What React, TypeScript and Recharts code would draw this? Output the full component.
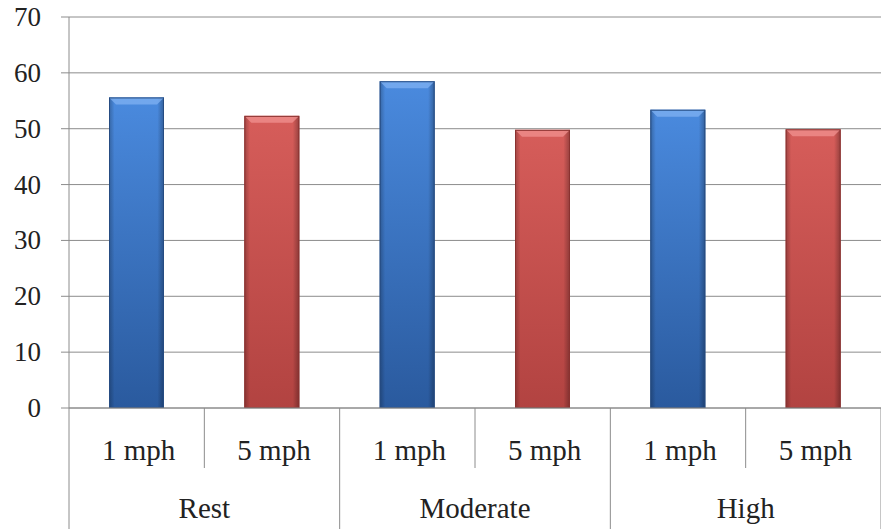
import React from 'react';
import { BarChart, Bar, XAxis, YAxis, CartesianGrid } from 'recharts';

const groups = ['Rest', 'Moderate', 'High'];
const speeds = ['1 mph', '5 mph'];
const oneMph = [55.6, 58.5, 53.4];
const fiveMph = [52.3, 49.8, 49.9];
const yTicks = [0, 10, 20, 30, 40, 50, 60, 70];

const data = groups.flatMap((g, i) => [
  { key: `${g}-1`, group: g, speed: speeds[0], value: oneMph[i], series: 'blue' },
  { key: `${g}-5`, group: g, speed: speeds[1], value: fiveMph[i], series: 'red' },
]);

const W = 881;
const H = 529;
const LEFT = 69;
const AXIS = '#8c8c8c';
const FONT = "'Liberation Serif', 'DejaVu Serif', serif";
const band = (W - LEFT) / data.length;
const yStyle = { fontFamily: FONT, fontSize: 27 };
const xStyle = { fontFamily: FONT, fontSize: 29 };

const palette: Record<string, { id: string; edge: string; bevel: string }> = {
  blue: { id: 'gBlue', edge: '#264c82', bevel: '#80b2f2' },
  red: { id: 'gRed', edge: '#8a3230', bevel: '#f09290' },
};

function BevelBar(props: any) {
  const { x, y, width, height, payload } = props;
  if (!height || height <= 0) return null;
  const p = palette[payload.series];
  const b = 7;
  return (
    <g>
      <rect x={x} y={y} width={width} height={height} fill={`url(#${p.id})`} />
      <rect x={x} y={y} width={width} height={height} fill="url(#gSide)" />
      <polygon
        points={`${x},${y} ${x + width},${y} ${x + width - b},${y + b} ${x + b},${y + b}`}
        fill={p.bevel}
        opacity={0.75}
      />
      <rect x={x + 0.5} y={y + 0.5} width={width - 1} height={height - 1} fill="none" stroke={p.edge} strokeWidth={1} />
    </g>
  );
}

function YTick(props: any) {
  const { x, y, payload } = props;
  return (
    <text x={x} y={y} textAnchor="end" dominantBaseline="central" style={yStyle} fill="#222">
      {payload.value}
    </text>
  );
}

function CategoryTick(props: any) {
  const { x, y, payload, index } = props;
  const row = data[index];
  const half = payload?.offset || band / 2;
  const right = x + half;
  const left = x - half;
  return (
    <g>
      <text x={x + 2} y={y + 42} textAnchor="middle" dominantBaseline="central" style={xStyle} fill="#222">
        {row.speed}
      </text>
      {index % 2 === 0 && (
        <text x={right} y={y + 100} textAnchor="middle" dominantBaseline="central" style={xStyle} fill="#222">
          {row.group}
        </text>
      )}
      {index === 0 && <line x1={left} y1={y} x2={left} y2={H} stroke={AXIS} />}
      <line x1={right} y1={y} x2={right} y2={index % 2 === 0 ? y + 60 : H} stroke={AXIS} />
    </g>
  );
}

export default function App() {
  return (
    <div style={{ position: 'absolute', left: 0, top: 0, background: '#fff' }}>
      <BarChart width={W} height={H} data={data} margin={{ top: 17, right: 0, bottom: 0, left: 0 }} barSize={55}>
        <defs>
          <linearGradient id="gBlue" x1="0" y1="0" x2="0" y2="1">
            <stop offset="0%" stopColor="#4a8ade" />
            <stop offset="100%" stopColor="#2a5a9e" />
          </linearGradient>
          <linearGradient id="gRed" x1="0" y1="0" x2="0" y2="1">
            <stop offset="0%" stopColor="#d65d5a" />
            <stop offset="100%" stopColor="#b24341" />
          </linearGradient>
          <linearGradient id="gSide" x1="0" y1="0" x2="1" y2="0">
            <stop offset="0%" stopColor="#000" stopOpacity={0.25} />
            <stop offset="10%" stopColor="#000" stopOpacity={0} />
            <stop offset="88%" stopColor="#000" stopOpacity={0} />
            <stop offset="100%" stopColor="#000" stopOpacity={0.3} />
          </linearGradient>
        </defs>
        <CartesianGrid horizontal vertical={false} stroke={AXIS} strokeWidth={1} />
        <YAxis
          width={LEFT}
          domain={[0, 70]}
          ticks={yTicks}
          interval={0}
          axisLine={{ stroke: AXIS }}
          tickLine={{ stroke: AXIS }}
          tickSize={8}
          tickMargin={20}
          tick={<YTick />}
        />
        <XAxis
          dataKey="key"
          height={121}
          interval={0}
          axisLine={{ stroke: AXIS }}
          tickLine={false}
          tickSize={0}
          tickMargin={0}
          tick={<CategoryTick />}
        />
        <Bar dataKey="value" shape={<BevelBar />} isAnimationActive={false} />
      </BarChart>
    </div>
  );
}
